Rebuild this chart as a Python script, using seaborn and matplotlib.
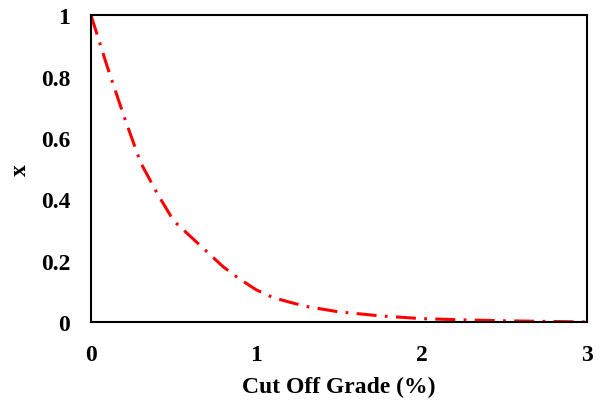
import matplotlib
matplotlib.use("Agg")
import matplotlib.pyplot as plt
import seaborn as sns
import pandas as pd

grade = [0, 0.1, 0.2, 0.3, 0.4, 0.5, 0.6, 0.7, 0.8, 0.9, 1.0, 1.1, 1.2, 1.3, 1.5, 1.75, 2.0, 2.25, 2.5, 2.75, 3.0]
xval = [1.0, 0.83, 0.67, 0.52, 0.42, 0.33, 0.28, 0.23, 0.18, 0.14, 0.105, 0.08, 0.065, 0.051, 0.033, 0.02, 0.011, 0.007, 0.004, 0.002, 0.0]
xticks = [0, 1, 2, 3]
yticks = [0, 0.2, 0.4, 0.6, 0.8, 1]
ytick_labels = ["0", "0.2", "0.4", "0.6", "0.8", "1"]

sns.set_style("white")
plt.rcParams['font.family'] = ['Liberation Serif', 'DejaVu Serif']
plt.rcParams['lines.scale_dashes'] = False
plt.rcParams['text.color'] = 'black'
plt.rcParams['axes.labelcolor'] = 'black'
plt.rcParams['xtick.color'] = 'black'
plt.rcParams['ytick.color'] = 'black'

df = pd.DataFrame({"grade": grade, "x": xval})

fig = plt.figure(figsize=(6.03, 4.02), dpi=100)
ax = fig.add_axes([0.151, 0.1965, 0.822, 0.7625])
sns.lineplot(data=df, x="grade", y="x", ax=ax, color="#ff0000", linewidth=2.2)
line = ax.lines[0]
line.set_dashes([14.4, 6.0, 2.0, 6.0])
line.set_dash_capstyle("butt")

ax.set_xlim(0, 3)
ax.set_ylim(0, 1)
ax.set_xticks(xticks)
ax.set_xticklabels([str(t) for t in xticks])
ax.set_yticks(yticks)
ax.set_yticklabels(ytick_labels)
ax.tick_params(axis="both", length=0, labelsize=17, labelcolor="black")
ax.tick_params(axis="y", pad=15)
ax.tick_params(axis="x", pad=16)
for lab in ax.get_xticklabels() + ax.get_yticklabels():
    lab.set_fontweight("bold")

ax.set_xlabel("Cut Off Grade (%)", fontsize=17, fontweight="bold", labelpad=8, color="black")
ax.set_ylabel("x", fontsize=17, fontweight="bold", labelpad=7, color="black")

for s in ax.spines.values():
    s.set_visible(True)
    s.set_color("black")
    s.set_linewidth(1.5)

fig.savefig("out.png", dpi=100)
